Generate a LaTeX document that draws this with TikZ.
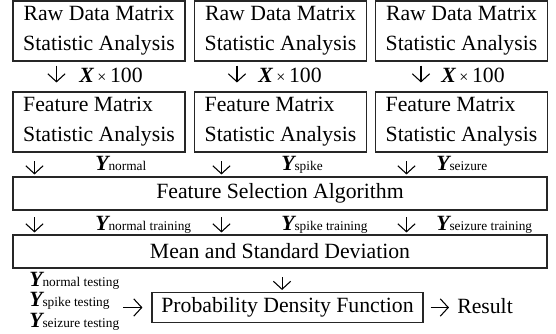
\documentclass[tikz,border=0pt]{standalone}
\usepackage{fontspec}
\setmainfont{Liberation Serif}
\usetikzlibrary{arrows.meta}
\newcommand{\Ylab}[1]{{\bfseries\itshape Y}{\fontsize{10}{12}\selectfont #1}}
\newcommand{\Xlab}{{\bfseries\itshape X}\,{\fontsize{12}{12}\selectfont ×}\,100}
\tikzset{box/.style = {draw=black!85, line width=0.8pt, inner sep=0pt,
                       font=\fontsize{16.3}{22.5}\selectfont}}
\tikzset{lbl/.style = {inner sep=0pt, font=\fontsize{16.3}{20}\selectfont}}
\tikzset{arr/.style = {-{Straight Barb[length=6pt,width=13pt]}, line width=0.8pt}}

\begin{document}
\begin{tikzpicture}[x=0.75pt, y=-0.75pt]
	\useasboundingbox (0,0) rectangle (556,333);
	\node [box, align=center, minimum width=129pt, minimum height=45pt] (raw1) at (99,31) {Raw Data Matrix\\Statistic Analysis};
	\node [box, align=center, minimum width=129pt, minimum height=45pt] (raw2) at (280.5,31) {Raw Data Matrix\\Statistic Analysis};
	\node [box, align=center, minimum width=129pt, minimum height=45pt] (raw3) at (461.5,31) {Raw Data Matrix\\Statistic Analysis};
	\node [box, align=left, minimum width=129pt, minimum height=45pt] (feat1) at (99,122) {Feature Matrix\\Statistic Analysis};
	\node [box, align=left, minimum width=129pt, minimum height=45pt] (feat2) at (280.5,122) {Feature Matrix\\Statistic Analysis};
	\node [box, align=left, minimum width=129pt, minimum height=45pt] (feat3) at (461.5,122) {Feature Matrix\\Statistic Analysis};
	\node [box, minimum width=400.5pt, minimum height=24.75pt] (sel) at (280,193.5) {Feature Selection Algorithm};
	\node [box, minimum width=400.5pt, minimum height=24.75pt] (msd) at (280,251.5) {Mean and Standard Deviation};
	\node [box, minimum width=203.25pt, minimum height=22.5pt] (pdf) at (287.5,307.5) {Probability Density Function};

	\draw [arr, shorten <=3pt, shorten >=6.75pt] ([xshift=33pt]raw1.south west) -- ([xshift=33pt]feat1.north west);
	\draw [arr, shorten <=3pt, shorten >=6.75pt] ([xshift=32.25pt]raw2.south west) -- ([xshift=32.25pt]feat2.north west);
	\draw [arr, shorten <=3pt, shorten >=6.75pt] ([xshift=34.5pt]raw3.south west) -- ([xshift=34.5pt]feat3.north west);
	\node [lbl, anchor=base west] (x1) at (79,82) {\Xlab};
	\node [lbl, anchor=base west] (x2) at (258,82) {\Xlab};
	\node [lbl, anchor=base west] (x3) at (441,82) {\Xlab};

	\coordinate (s1) at ([xshift=16.5pt]sel.north west);
	\coordinate (s2) at ([xshift=156.75pt]sel.north west);
	\coordinate (s3) at ([xshift=295.5pt]sel.north west);
	\draw [arr, shorten <=6.5pt, shorten >=1.5pt] (feat1.south -| s1) -- (s1);
	\draw [arr, shorten <=6.5pt, shorten >=1.5pt] (feat2.south -| s2) -- (s2);
	\draw [arr, shorten <=6.5pt, shorten >=1.5pt] (feat3.south -| s3) -- (s3);
	\node [lbl, anchor=base west] (y1) at (95,170) {\Ylab{normal}};
	\node [lbl, anchor=base west] (y2) at (281,170) {\Ylab{spike}};
	\node [lbl, anchor=base west] (y3) at (436,170) {\Ylab{seizure}};

	\coordinate (m1) at ([xshift=16.5pt]msd.north west);
	\coordinate (m2) at ([xshift=156.75pt]msd.north west);
	\coordinate (m3) at ([xshift=295.5pt]msd.north west);
	\draw [arr, shorten <=5pt, shorten >=1.5pt] (sel.south -| m1) -- (m1);
	\draw [arr, shorten <=5pt, shorten >=1.5pt] (sel.south -| m2) -- (m2);
	\draw [arr, shorten <=5pt, shorten >=1.5pt] (sel.south -| m3) -- (m3);
	\node [lbl, anchor=base west] (tr1) at (95,230) {\Ylab{normal training}};
	\node [lbl, anchor=base west] (tr2) at (281,230) {\Ylab{spike training}};
	\node [lbl, anchor=base west] (tr3) at (436,230) {\Ylab{seizure training}};

	\coordinate (p0) at ([xshift=-4.1pt]pdf.north);
	\draw [arr, shorten <=6.5pt, shorten >=1.5pt] (msd.south -| p0) -- (p0);
	\node [lbl, anchor=base west] (tnormal) at (29,286) {\Ylab{normal testing}};
	\node [lbl, anchor=base west] (tspike) at (29,306) {\Ylab{spike testing}};
	\node [lbl, anchor=base west] (tseizure) at (29,327) {\Ylab{seizure testing}};
	\draw [arr, shorten <=10pt, shorten >=6.75pt] (tspike.east |- pdf.west) -- (pdf.west);
	\node [lbl, anchor=base west] (res) at (457,313) {Result};
	\draw [arr, shorten <=5.25pt, shorten >=6pt] (pdf.east) -- (pdf.east -| res.west);
\end{tikzpicture}
\end{document}
